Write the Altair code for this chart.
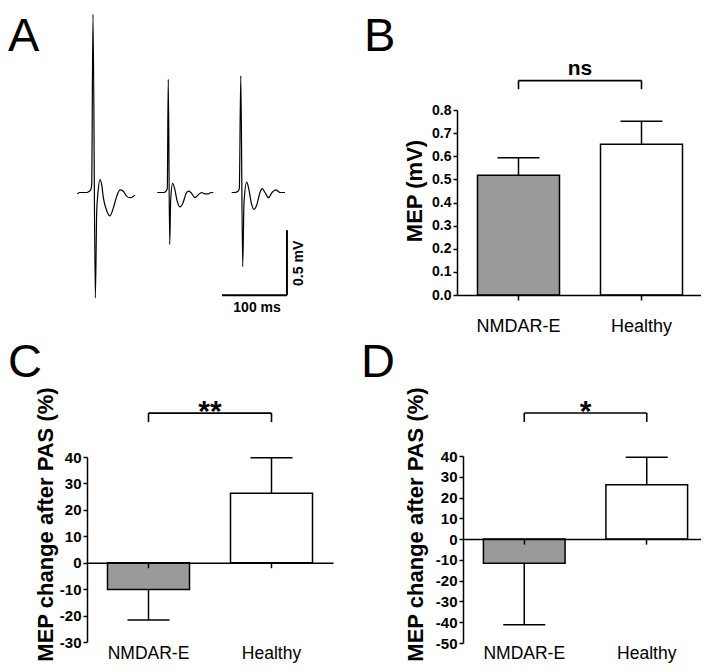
import altair as alt
import pandas as pd

FONT = "Liberation Sans"
W, H = 693, 656

# ---------------- Panel A: example MEP traces (time in ms, amplitude in mV) ----------------
trace_names = ["trace 1", "trace 2", "trace 3"]
trace_offsets_ms = [0.0, 123.5, 238.0]

trace1_ms = [0.5, 4.6, 9.7, 14.9, 18.9, 21.1, 22.6, 24.6, 28.2, 30.3, 32.3, 35.4, 38.0, 40.5,
             45.7, 50.8, 55.8, 61.1, 66.2, 71.2, 76.5, 81.5, 86.6, 89.2]
trace1_mv = [-0.01, 0.0, 0.0, 0.0, 0.01, 0.02, 0.06, 1.37, -0.81, -0.15, 0.0, 0.10, 0.06, -0.04,
             -0.14, -0.18, -0.12, -0.03, 0.02, 0.01, -0.03, -0.04, -0.03, -0.02]
trace2_ms = [0.0, 5.7, 10.3, 13.4, 15.4, 16.9, 19.1, 20.6, 23.7, 27.2, 30.3, 34.9, 39.5, 44.2,
             47.7, 51.8, 58.0, 62.6, 68.3, 73.4, 78.5, 82.6, 86.2]
trace2_mv = [0.0, 0.0, 0.0, 0.01, 0.03, 0.87, -0.40, -0.06, 0.07, 0.02, -0.06, -0.11, -0.08, -0.01,
             0.01, 0.0, -0.04, -0.02, 0.0, -0.01, -0.01, 0.0, 0.0]
trace3_ms = [0.0, 5.1, 9.7, 11.7, 14.0, 16.9, 18.9, 23.1, 26.6, 29.7, 34.3, 38.9, 43.5, 47.1,
             51.2, 56.6, 62.0, 68.1, 74.3, 78.9, 82.0]
trace3_mv = [0.0, 0.0, 0.01, 0.03, 0.90, -0.57, -0.08, 0.08, 0.02, -0.07, -0.13, -0.09, 0.0, 0.03,
             0.0, -0.04, 0.0, 0.02, 0.0, 0.0, 0.0]

scalebar_ms = [223.0, 323.0]      # 100 ms
scalebar_mv = [-0.79, -0.29]      # 0.5 mV
scalebar_labels = ["100 ms", "0.5 mV"]

# ---------------- Panels B-D: group means and SEM ----------------
categories = ["NMDAR-E", "Healthy"]
bar_colors = ["#9a9a9a", "#ffffff"]

mep_mean = [0.518, 0.652]
mep_sem = [0.076, 0.099]
mep_ticks = [0.0, 0.1, 0.2, 0.3, 0.4, 0.5, 0.6, 0.7, 0.8]

pasC_mean = [-10.1, 26.3]
pasC_sem = [11.6, 13.4]
pasC_ticks = [-30, -20, -10, 0, 10, 20, 30, 40]

pasD_mean = [-11.6, 26.2]
pasD_sem = [29.6, 13.2]
pasD_ticks = [-50, -40, -30, -20, -10, 0, 10, 20, 30, 40]

significance = ["ns", "**", "*"]
panel_letters = ["A", "B", "C", "D"]


def letter_layer(letter, px, py):
    return alt.Chart(pd.DataFrame({"letter": [letter]})).mark_text(
        font=FONT, fontSize=47, align="left", baseline="alphabetic", color="black"
    ).encode(x=alt.value(px), y=alt.value(py), text="letter:N")


# ---- Panel A layers ----
rows = []
for name, off, ts, vs in zip(trace_names, trace_offsets_ms,
                             [trace1_ms, trace2_ms, trace3_ms],
                             [trace1_mv, trace2_mv, trace3_mv]):
    for t, v in zip(ts, vs):
        rows.append({"trace": name, "t": t + off, "v": v})
traces = pd.DataFrame(rows)


def xA(field):
    return alt.X(field, scale=alt.Scale(domain=[0, 400], range=[69, 329], nice=False, zero=False), axis=None)


def yA(field):
    return alt.Y(field, scale=alt.Scale(domain=[-1, 1.5], range=[314.5, -10.5], nice=False, zero=False), axis=None)


lines = alt.Chart(traces).mark_line(color="black", strokeWidth=1.2, interpolate="monotone").encode(
    x=xA("t:Q"), y=yA("v:Q"), detail="trace:N")
hbar = alt.Chart(pd.DataFrame({"t": [scalebar_ms[0]], "t2": [scalebar_ms[1]], "v": [scalebar_mv[0]]})).mark_rule(
    color="black", strokeWidth=2).encode(x=xA("t:Q"), x2="t2:Q", y=yA("v:Q"))
vbar = alt.Chart(pd.DataFrame({"t": [scalebar_ms[1]], "v": [scalebar_mv[0]], "v2": [scalebar_mv[1]]})).mark_rule(
    color="black", strokeWidth=2).encode(x=xA("t:Q"), y=yA("v:Q"), y2="v2:Q")
hlabel = alt.Chart(pd.DataFrame({"t": [277.0], "v": [-0.917], "label": [scalebar_labels[0]]})).mark_text(
    font=FONT, fontSize=14, fontWeight="bold", align="center", baseline="alphabetic", color="black"
).encode(x=xA("t:Q"), y=yA("v:Q"), text="label:N")
vlabel = alt.Chart(pd.DataFrame({"t": [348.0], "v": [-0.545], "label": [scalebar_labels[1]]})).mark_text(
    font=FONT, fontSize=14, fontWeight="bold", align="center", baseline="alphabetic", angle=270, color="black"
).encode(x=xA("t:Q"), y=yA("v:Q"), text="label:N")

panelA = [lines, hbar, vbar, hlabel, vlabel, letter_layer(panel_letters[0], 0, 43)]


# ---- Bar panels (flat list of layers sharing identical explicit scales) ----
def bar_panel(means, sems, ticks, label_expr, tick_size, ydom, yrange, xrange, axis_x, axis_y,
              label_pad, label_size, title, title_x, title_y, title_size,
              sig, br_top, br_drop, sig_y, sig_size, sig_dx, letter, letter_x, letter_y):
    end = [m + s if m >= 0 else m - s for m, s in zip(means, sems)]
    df = pd.DataFrame({"group": categories, "mean": means, "end": end})

    def xs():
        return alt.Scale(domain=categories, range=xrange, paddingInner=1 / 3, paddingOuter=1 / 6)

    def ys():
        return alt.Scale(domain=ydom, range=yrange, nice=False, zero=False)

    x_axis = alt.Axis(
        orient="bottom", offset=axis_y - H, zindex=1, title=None,
        domainColor="black", domainWidth=1.5, tickColor="black", tickWidth=1.5, tickSize=5,
        labelPadding=label_pad, labelFont=FONT, labelFontSize=label_size, labelColor="black", labelAngle=0,
    )
    y_axis = alt.Axis(
        orient="left", offset=-axis_x, values=ticks, labelExpr=label_expr, grid=False,
        domainColor="black", domainWidth=1.5, tickColor="black", tickWidth=1.5, tickSize=4,
        labelPadding=2, labelFont=FONT, labelFontSize=tick_size, labelFontWeight="bold", labelColor="black",
        labelFlush=False, labelOverlap=False,
        title=title, titleFont=FONT, titleFontSize=title_size, titleFontWeight="bold", titleColor="black",
        titleAngle=270, titleX=title_x, titleY=title_y, titleAlign="center", titleBaseline="alphabetic",
    )

    base = alt.Chart(df)
    bars = base.mark_bar(stroke="black", strokeWidth=1.5).encode(
        x=alt.X("group:N", scale=xs(), axis=x_axis),
        y=alt.Y("mean:Q", scale=ys(), axis=y_axis),
        y2=alt.datum(0),
        fill=alt.Fill("group:N", scale=alt.Scale(domain=categories, range=bar_colors), legend=None),
    )
    err = base.mark_rule(color="black", strokeWidth=1.5).encode(
        x=alt.X("group:N", scale=xs(), axis=None), y=alt.Y("mean:Q", scale=ys(), axis=None), y2="end:Q")
    caps = base.mark_tick(color="black", size=42, thickness=1.5, opacity=1).encode(
        x=alt.X("group:N", scale=xs(), axis=None), y=alt.Y("end:Q", scale=ys(), axis=None))
    br_h = alt.Chart(pd.DataFrame({"a": [categories[0]], "b": [categories[1]], "y": [br_top]})).mark_rule(
        color="black", strokeWidth=1.6
    ).encode(x=alt.X("a:N", scale=xs(), axis=None), x2="b:N", y=alt.Y("y:Q", scale=ys(), axis=None))
    br_v = alt.Chart(pd.DataFrame({"group": categories, "top": [br_top] * 2, "drop": [br_drop] * 2})).mark_rule(
        color="black", strokeWidth=1.6
    ).encode(x=alt.X("group:N", scale=xs(), axis=None), y=alt.Y("top:Q", scale=ys(), axis=None), y2="drop:Q")
    txt = alt.Chart(pd.DataFrame({"group": [categories[0]], "y": [sig_y], "label": [sig]})).mark_text(
        font=FONT, fontSize=sig_size, fontWeight="bold", align="center", baseline="alphabetic",
        dx=sig_dx, color="black"
    ).encode(x=alt.X("group:N", scale=xs(), axis=None), y=alt.Y("y:Q", scale=ys(), axis=None), text="label:N")

    return [bars, err, caps, br_h, br_v, txt, letter_layer(letter, letter_x, letter_y)]


panelB = bar_panel(mep_mean, mep_sem, mep_ticks, "format(datum.value, '.1f')", 14,
                   [0, 0.8], [287, 102], [449, 695], 449, 287,
                   17, 18, "MEP (mV)", -36, 182.5, 22,
                   significance[0], 0.927, 0.890, 0.951, 21, 61.5,
                   panel_letters[1], 356, 43)

panelC = bar_panel(pasC_mean, pasC_sem, pasC_ticks, "'' + datum.value", 15,
                   [-30, 40], [634, 449], [79, 325], 79, 554.7,
                   77, 17.5, "MEP change after PAS (%)", -35, 516, 22,
                   significance[1], 56.6, 53.2, 53.6, 30, 61.5,
                   panel_letters[2], 0, 369)

panelD = bar_panel(pasD_mean, pasD_sem, pasD_ticks, "'' + datum.value", 15,
                   [-50, 40], [635, 448], [455, 700], 455, 531.1,
                   100.6, 17.5, "MEP change after PAS (%)", -41, 516, 22,
                   significance[2], 60.7, 56.4, 56.8, 30, 61.25,
                   panel_letters[3], 353, 369)

chart = alt.layer(*(panelA + panelB + panelC + panelD)).resolve_scale(
    x="independent", y="independent"
).resolve_axis(
    x="independent", y="independent"
).properties(
    width=W, height=H, autosize=alt.AutoSizeParams(type="none"), padding=0, background="white"
).configure_view(strokeWidth=0)

chart.save("out.html", embed_options={"renderer": "svg", "actions": False})
